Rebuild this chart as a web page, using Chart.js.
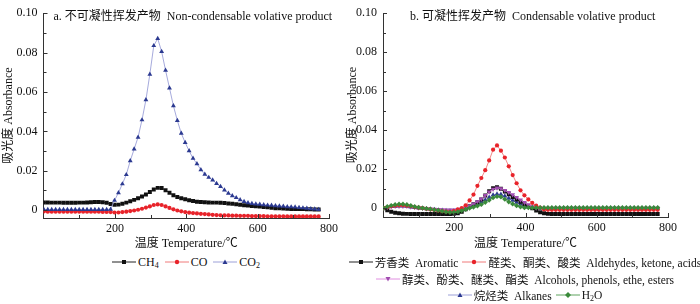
<!DOCTYPE html>
<html>
<head>
<meta charset="utf-8">
<script src="https://cdn.jsdelivr.net/npm/chart.js@4.4.0/dist/chart.umd.min.js"></script>
<style>
  body { margin: 0; background: #fff; }
  #wrap { position: relative; width: 700px; height: 304px; overflow: hidden; }
  canvas { position: absolute; top: 0; }
  .leg { position: absolute; display: flex; justify-content: center; align-items: center;
         height: 16px; font: 12px "Liberation Serif", "Noto Sans CJK SC", serif; color: #111;
         white-space: nowrap; }
  .leg.b { font-size: 11.5px; }
  .it { display: inline-flex; align-items: center; margin: 0 3px; }
  .leg.b .it { margin: 0 2px; }
  .it svg { margin-right: 2px; }
  sub { font-size: 8px; vertical-align: -2px; line-height: 0; }
</style>
</head>
<body>
<div id="wrap">
  <canvas id="ca" width="350" height="252" style="left:0"></canvas>
  <canvas id="cb" width="355" height="252" style="left:345px"></canvas>
  <div class="leg" id="la0" style="left:-164px;width:700px;top:254px"></div>
  <div class="leg b" id="lb0" style="left:175px;width:700px;top:254px"></div>
  <div class="leg b" id="lb1" style="left:175px;width:700px;top:271px"></div>
  <div class="leg b" id="lb2" style="left:175px;width:700px;top:287px"></div>
</div>
<script>
// temperature (°C) of each measurement
const temps = [1, 12, 23, 34, 45, 56, 67, 78, 89, 100, 111, 122, 133, 144, 155, 166, 177, 188, 199, 210,
  221, 232, 243, 254, 265, 276, 287, 298, 309, 320, 331, 342, 353, 364, 375, 386, 397, 408, 419, 430,
  441, 452, 463, 474, 485, 496, 507, 518, 529, 540, 551, 562, 573, 584, 595, 606, 617, 628, 639, 650,
  661, 672, 683, 694, 705, 716, 727, 738, 749, 760, 771];

// a. non-condensable
const ch4 = [0.0039, 0.0039, 0.0038, 0.0038, 0.0038, 0.0037, 0.0037, 0.0037, 0.0037, 0.0038,
  0.0038, 0.0039, 0.0040, 0.0041, 0.0041, 0.0040, 0.0037, 0.0031, 0.0027, 0.0028,
  0.0032, 0.0038, 0.0045, 0.0052, 0.0060, 0.0069, 0.0079, 0.0092, 0.0105, 0.0113,
  0.0112, 0.0101, 0.0088, 0.0076, 0.0067, 0.0060, 0.0055, 0.0050, 0.0046, 0.0043,
  0.0041, 0.0040, 0.0039, 0.0038, 0.0038, 0.0037, 0.0036, 0.0034, 0.0032, 0.0030,
  0.0027, 0.0025, 0.0023, 0.0021, 0.0020, 0.0018, 0.0016, 0.0014, 0.0012, 0.0010,
  0.0009, 0.0008, 0.0007, 0.0006, 0.0006, 0.0005, 0.0005, 0.0004, 0.0004, 0.0003, 0.0003];
const co = [-0.0007, -0.0008, -0.0008, -0.0008, -0.0008, -0.0008, -0.0008, -0.0008, -0.0008, -0.0008,
  -0.0008, -0.0008, -0.0008, -0.0008, -0.0008, -0.0009, -0.0009, -0.0010, -0.0012, -0.0012,
  -0.0010, -0.0008, -0.0005, -0.0002, 0.0002, 0.0007, 0.0013, 0.0019, 0.0026, 0.0029,
  0.0026, 0.0019, 0.0011, 0.0004, -0.0002, -0.0006, -0.0010, -0.0013, -0.0015, -0.0017,
  -0.0019, -0.0020, -0.0022, -0.0024, -0.0025, -0.0026, -0.0027, -0.0027, -0.0028, -0.0028,
  -0.0029, -0.0029, -0.0029, -0.0030, -0.0030, -0.0030, -0.0030, -0.0031, -0.0031, -0.0031,
  -0.0031, -0.0031, -0.0032, -0.0032, -0.0032, -0.0032, -0.0032, -0.0032, -0.0032, -0.0032, -0.0032];
const co2 = [0.0003, 0.0003, 0.0003, 0.0003, 0.0003, 0.0003, 0.0003, 0.0003, 0.0003, 0.0003,
  0.0003, 0.0003, 0.0003, 0.0003, 0.0003, 0.0003, 0.0003, 0.0004, 0.0049, 0.0088,
  0.0133, 0.0180, 0.0250, 0.0310, 0.0370, 0.0458, 0.0560, 0.0690, 0.0835, 0.0871,
  0.0805, 0.0710, 0.0620, 0.0530, 0.0455, 0.0390, 0.0343, 0.0301, 0.0263, 0.0235,
  0.0205, 0.0182, 0.0166, 0.0153, 0.0135, 0.0120, 0.0102, 0.0085, 0.0073, 0.0063,
  0.0052, 0.0043, 0.0037, 0.0033, 0.0031, 0.0029, 0.0027, 0.0025, 0.0024, 0.0022,
  0.0021, 0.0019, 0.0017, 0.0016, 0.0015, 0.0013, 0.0011, 0.0009, 0.0007, 0.0005, 0.0003];

// b. condensable
const aromatic = [0.0000, -0.0010, -0.0018, -0.0023, -0.0026, -0.0028, -0.0029, -0.0030, -0.0030, -0.0030,
  -0.0030, -0.0030, -0.0030, -0.0030, -0.0030, -0.0030, -0.0030, -0.0030, -0.0029, -0.0026,
  -0.0018, -0.0006, 0.0010, 0.0020, 0.0031, 0.0045, 0.0065, 0.0087, 0.0103, 0.0108,
  0.0100, 0.0086, 0.0072, 0.0058, 0.0045, 0.0033, 0.0022, 0.0010, 0.0000, -0.0012,
  -0.0021, -0.0026, -0.0029, -0.0030, -0.0030, -0.0030, -0.0030, -0.0030, -0.0030, -0.0030,
  -0.0030, -0.0030, -0.0030, -0.0030, -0.0030, -0.0030, -0.0030, -0.0030, -0.0030, -0.0030,
  -0.0030, -0.0030, -0.0030, -0.0030, -0.0030, -0.0030, -0.0030, -0.0030, -0.0030, -0.0030, -0.0030];
const aldehydes = [0.0000, 0.0005, 0.0010, 0.0013, 0.0015, 0.0015, 0.0013, 0.0010, 0.0006, 0.0003,
  0.0000, -0.0003, -0.0006, -0.0009, -0.0012, -0.0015, -0.0017, -0.0018, -0.0015, -0.0006,
  0.0000, 0.0015, 0.0040, 0.0070, 0.0115, 0.0155, 0.0195, 0.0245, 0.0300, 0.0322,
  0.0295, 0.0260, 0.0215, 0.0170, 0.0128, 0.0092, 0.0066, 0.0045, 0.0027, 0.0013,
  0.0003, -0.0006, -0.0008, -0.0008, -0.0008, -0.0008, -0.0008, -0.0008, -0.0008, -0.0008,
  -0.0008, -0.0008, -0.0008, -0.0008, -0.0008, -0.0008, -0.0008, -0.0008, -0.0008, -0.0008,
  -0.0008, -0.0008, -0.0008, -0.0008, -0.0008, -0.0008, -0.0008, -0.0008, -0.0008, -0.0008, -0.0008];
const alcohols = [0.0000, 0.0004, 0.0008, 0.0010, 0.0011, 0.0011, 0.0010, 0.0007, 0.0004, 0.0002,
  0.0000, -0.0002, -0.0004, -0.0005, -0.0006, -0.0007, -0.0008, -0.0008, -0.0008, -0.0006,
  -0.0002, 0.0004, 0.0012, 0.0022, 0.0034, 0.0048, 0.0066, 0.0084, 0.0098, 0.0104,
  0.0101, 0.0092, 0.0081, 0.0069, 0.0056, 0.0043, 0.0030, 0.0018, 0.0008, 0.0002,
  0.0000, 0.0000, 0.0000, 0.0000, 0.0000, 0.0000, 0.0000, 0.0000, 0.0000, 0.0000,
  0.0000, 0.0000, 0.0000, 0.0000, 0.0000, 0.0000, 0.0000, 0.0000, 0.0000, 0.0000,
  0.0000, 0.0000, 0.0000, 0.0000, 0.0000, 0.0000, 0.0000, 0.0000, 0.0000, 0.0000, 0.0000];
const alkanes = [0.0000, 0.0004, 0.0008, 0.0010, 0.0011, 0.0011, 0.0009, 0.0006, 0.0003, 0.0001,
  -0.0001, -0.0003, -0.0005, -0.0007, -0.0009, -0.0011, -0.0012, -0.0013, -0.0013, -0.0011,
  -0.0007, -0.0002, 0.0004, 0.0011, 0.0020, 0.0030, 0.0043, 0.0056, 0.0068, 0.0073,
  0.0071, 0.0062, 0.0051, 0.0040, 0.0030, 0.0021, 0.0013, 0.0007, 0.0003, 0.0001,
  0.0000, 0.0000, 0.0000, 0.0000, 0.0000, 0.0000, 0.0000, 0.0000, 0.0000, 0.0000,
  0.0000, 0.0000, 0.0000, 0.0000, 0.0000, 0.0000, 0.0000, 0.0000, 0.0000, 0.0000,
  0.0000, 0.0000, 0.0000, 0.0000, 0.0000, 0.0000, 0.0000, 0.0000, 0.0000, 0.0000, 0.0000];
const h2o = [0.0000, 0.0008, 0.0014, 0.0018, 0.0021, 0.0021, 0.0018, 0.0013, 0.0008, 0.0004,
  0.0001, -0.0002, -0.0005, -0.0008, -0.0011, -0.0015, -0.0019, -0.0021, -0.0021, -0.0018,
  -0.0012, -0.0006, 0.0000, 0.0006, 0.0012, 0.0019, 0.0030, 0.0042, 0.0054, 0.0060,
  0.0058, 0.0046, 0.0033, 0.0022, 0.0013, 0.0007, 0.0003, 0.0003, 0.0003, 0.0003,
  0.0003, 0.0003, 0.0003, 0.0003, 0.0003, 0.0003, 0.0003, 0.0003, 0.0003, 0.0003,
  0.0003, 0.0003, 0.0003, 0.0003, 0.0003, 0.0003, 0.0003, 0.0003, 0.0003, 0.0003,
  0.0003, 0.0003, 0.0003, 0.0003, 0.0003, 0.0003, 0.0003, 0.0003, 0.0003, 0.0003, 0.0003];

// ticks
const xTicks = [200, 400, 600, 800];
const xMinor = [100, 200, 300, 400, 500, 600, 700, 800];
const yTicks = [0, 0.02, 0.04, 0.06, 0.08, 0.1];
const yMinor = [0, 0.01, 0.02, 0.03, 0.04, 0.05, 0.06, 0.07, 0.08, 0.09, 0.1];

const FONT = '"Liberation Serif", "Noto Sans CJK SC", serif';

// series look: line colour, marker colour, marker shape
const S = {
  black:  { line: '#222', mark: '#111', shape: 'rect', r: 2.8, rot: 0 },
  red:    { line: '#f07a7a', mark: '#e8232a', shape: 'circle', r: 2.1, rot: 0 },
  blue:   { line: '#9ca0d8', mark: '#2b3990', shape: 'triangle', r: 2.8, rot: 0 },
  purple: { line: '#e08ee0', mark: '#a04cb0', shape: 'triangle', r: 2.8, rot: 180 },
  green:  { line: '#5ea35e', mark: '#3a8a3a', shape: 'rectRot', r: 2.6, rot: 0 }
};

function ds(vals, st, order) {
  return {
    data: temps.map((t, i) => ({ x: t, y: vals[i] })),
    borderColor: st.line, borderWidth: 0.9,
    pointStyle: st.shape, pointRadius: st.r, pointRotation: st.rot,
    pointBackgroundColor: st.mark, pointBorderColor: st.mark, pointBorderWidth: 0,
    tension: 0, order: order
  };
}

// inward ticks + panel heading
const axisDeco = {
  id: 'axisDeco',
  afterDraw(chart, args, opts) {
    const { ctx, chartArea: a, scales: { x, y } } = chart;
    ctx.save();
    ctx.strokeStyle = '#333';
    ctx.lineWidth = 1;
    ctx.beginPath();
    xMinor.forEach(v => {
      const px = Math.round(x.getPixelForValue(v)) + 0.5;
      const len = xTicks.includes(v) ? 4 : 3;
      ctx.moveTo(px, a.bottom); ctx.lineTo(px, a.bottom - len);
    });
    yMinor.forEach((v, i) => {
      const py = Math.round(y.getPixelForValue(v)) + 0.5;
      const len = i % 2 === 0 ? 4 : 3;
      ctx.moveTo(a.left, py); ctx.lineTo(a.left + len, py);
    });
    ctx.stroke();
    ctx.fillStyle = '#111';
    ctx.font = '12px ' + FONT;
    ctx.textBaseline = 'middle';
    ctx.fillText(opts.text, a.left + opts.dx, a.top + 4);
    ctx.restore();
  }
};

function opts(yMin, yW, xH, padR, titlePad, heading, dx) {
  return {
    responsive: false, animation: false, devicePixelRatio: 1,
    layout: { padding: { top: 7, right: padR, left: 0, bottom: 0 } },
    plugins: { legend: { display: false }, tooltip: { enabled: false },
      axisDeco: { text: heading, dx: dx } },
    scales: {
      x: {
        type: 'linear', min: 0, max: 800,
        afterBuildTicks: s => { s.ticks = xTicks.map(v => ({ value: v })); },
        afterFit: s => { s.height = xH; },
        grid: { display: true, drawOnChartArea: false, drawTicks: false },
        border: { display: true, color: '#333', width: 1 },
        ticks: { padding: 4, color: '#111', font: { family: FONT, size: 12 }, maxRotation: 0 },
        title: { display: true, text: '温度 Temperature/℃', color: '#111',
          font: { family: FONT, size: 12 }, padding: { top: 0, bottom: 1 } }
      },
      y: {
        min: yMin, max: 0.1,
        afterBuildTicks: s => { s.ticks = yTicks.map(v => ({ value: v })); },
        afterFit: s => { s.width = yW; },
        grid: { display: true, drawOnChartArea: false, drawTicks: false },
        border: { display: true, color: '#333', width: 1 },
        ticks: { padding: 6, color: '#111', font: { family: FONT, size: 12 },
          callback: v => v === 0 ? '0' : v.toFixed(2) },
        title: { display: true, text: '吸光度 Absorbance', color: '#111',
          font: { family: FONT, size: 12 }, padding: { top: titlePad, bottom: 0 } }
      }
    }
  };
}

new Chart(document.getElementById('ca'), {
  type: 'line',
  data: { datasets: [ds(ch4, S.black, 2), ds(co, S.red, 1), ds(co2, S.blue, 0)] },
  options: opts(-0.004, 43.5, 34, 21, 2, 'a. 不可凝性挥发产物  Non-condensable volative product', 10),
  plugins: [axisDeco]
});

new Chart(document.getElementById('cb'), {
  type: 'line',
  data: { datasets: [ds(aromatic, S.black, 3), ds(aldehydes, S.red, 1), ds(alcohols, S.purple, 2),
    ds(alkanes, S.blue, 4), ds(h2o, S.green, 0)] },
  options: opts(-0.0045, 38, 35, 32, 1, 'b. 可凝性挥发产物  Condensable volative product', 27),
  plugins: [axisDeco]
});

// legends
function sym(st) {
  const c = st.mark;
  let m = '';
  if (st.shape === 'rect') m = `<rect x="10" y="3" width="4" height="4" fill="${c}"/>`;
  else if (st.shape === 'circle') m = `<circle cx="12" cy="5" r="2.2" fill="${c}"/>`;
  else if (st.shape === 'rectRot') m = `<polygon points="12,2 15,5 12,8 9,5" fill="${c}"/>`;
  else if (st.rot) m = `<polygon points="9.5,3 14.5,3 12,7.5" fill="${c}"/>`;
  else m = `<polygon points="12,2.5 14.5,7 9.5,7" fill="${c}"/>`;
  return `<svg width="24" height="10"><line x1="0" y1="5" x2="24" y2="5" stroke="${st.line}" stroke-width="1"/>${m}</svg>`;
}
function item(st, html) { return `<span class="it">${sym(st)}<span>${html}</span></span>`; }

document.getElementById('la0').innerHTML =
  item(S.black, 'CH<sub>4</sub>') + item(S.red, 'CO') + item(S.blue, 'CO<sub>2</sub>');
document.getElementById('lb0').innerHTML =
  item(S.black, '芳香类&nbsp; Aromatic') + item(S.red, '醛类、酮类、酸类&nbsp; Aldehydes, ketone, acids');
document.getElementById('lb1').innerHTML =
  item(S.purple, '醇类、酚类、醚类、酯类&nbsp; Alcohols, phenols, ethe, esters');
document.getElementById('lb2').innerHTML =
  item(S.blue, '烷烃类&nbsp; Alkanes') + item(S.green, 'H<sub>2</sub>O');
</script>
</body>
</html>
